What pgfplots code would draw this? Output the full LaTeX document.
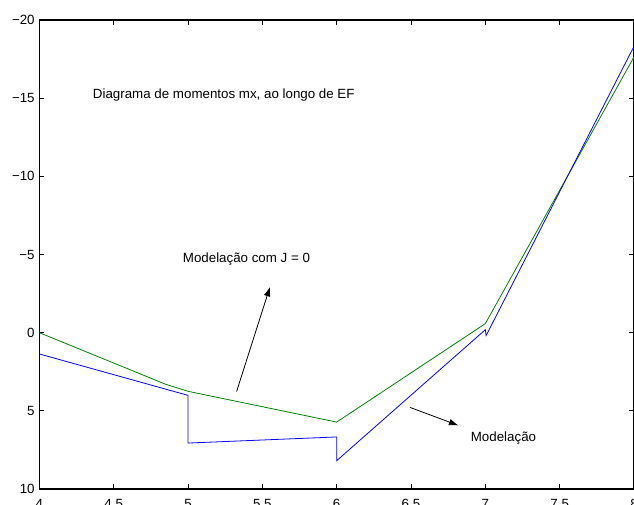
\documentclass[border=0pt]{standalone}
\usepackage{fontspec}
\setmainfont{Liberation Sans}
\usepackage{pgfplots}
\pgfplotsset{compat=1.18}
\usetikzlibrary{arrows.meta}
\definecolor{mblue}{RGB}{0,0,255}
\definecolor{mgreen}{RGB}{0,128,0}
\begin{document}
\begin{tikzpicture}
\begin{axis}[
  at={(0,0)}, anchor=south west,
  scale only axis,
  width=446pt, height=351.75pt,
  xmin=4, xmax=8, ymin=-20, ymax=10,
  y dir=reverse,
  xtick={4,4.5,5,5.5,6,6.5,7,7.5,8},
  xticklabels={4,4.5,5,5.5,6,6.5,7,7.5,8},
  ytick={-20,-15,-10,-5,0,5,10},
  yticklabels={−20,−15,−10,−5,0,5,10},
  tick align=inside,
  major tick length=3.75pt,
  tick style={black, line width=0.6pt},
  axis line style={line width=0.8pt},
  ticklabel style={font=\fontsize{10}{12}\selectfont},
  xticklabel style={yshift=-4pt},
  /pgf/number format/assume math mode=true,
  clip=true,
]
\addplot[mgreen, line width=0.6pt] coordinates {
  (4,0) (4.85,3.3) (5,3.75) (6,5.72) (7,-0.58) (8,-17.64)
};
\addplot[mblue, line width=0.6pt] coordinates {
  (4,1.36) (5,4.01) (5,7.06) (6,6.67) (6,8.19) (7,-0.19) (7.005,0.19) (8,-18.32)
};
\node[anchor=base west, inner sep=0pt, font=\fontsize{10}{12}\selectfont] at (axis cs:4.359,-14.95) {Diagrama de momentos mx, ao longo de EF};
\node[anchor=base west, inner sep=0pt, font=\fontsize{10}{12}\selectfont] at (axis cs:4.964,-4.52) {Modelação com J = 0};
\node[anchor=base west, inner sep=0pt, font=\fontsize{10}{12}\selectfont] at (axis cs:6.901,6.97) {Modelação};
\draw[line width=0.6pt, -{Latex[length=7pt,width=5pt]}] (axis cs:5.327,3.76) -- (axis cs:5.551,-2.92);
\draw[line width=0.6pt, -{Latex[length=7pt,width=5pt]}] (axis cs:6.493,4.78) -- (axis cs:6.818,5.93);
\end{axis}
\pgfresetboundingbox
\useasboundingbox (-29.5pt,-11.25pt) rectangle (446pt,366.75pt);
\end{tikzpicture}
\end{document}
